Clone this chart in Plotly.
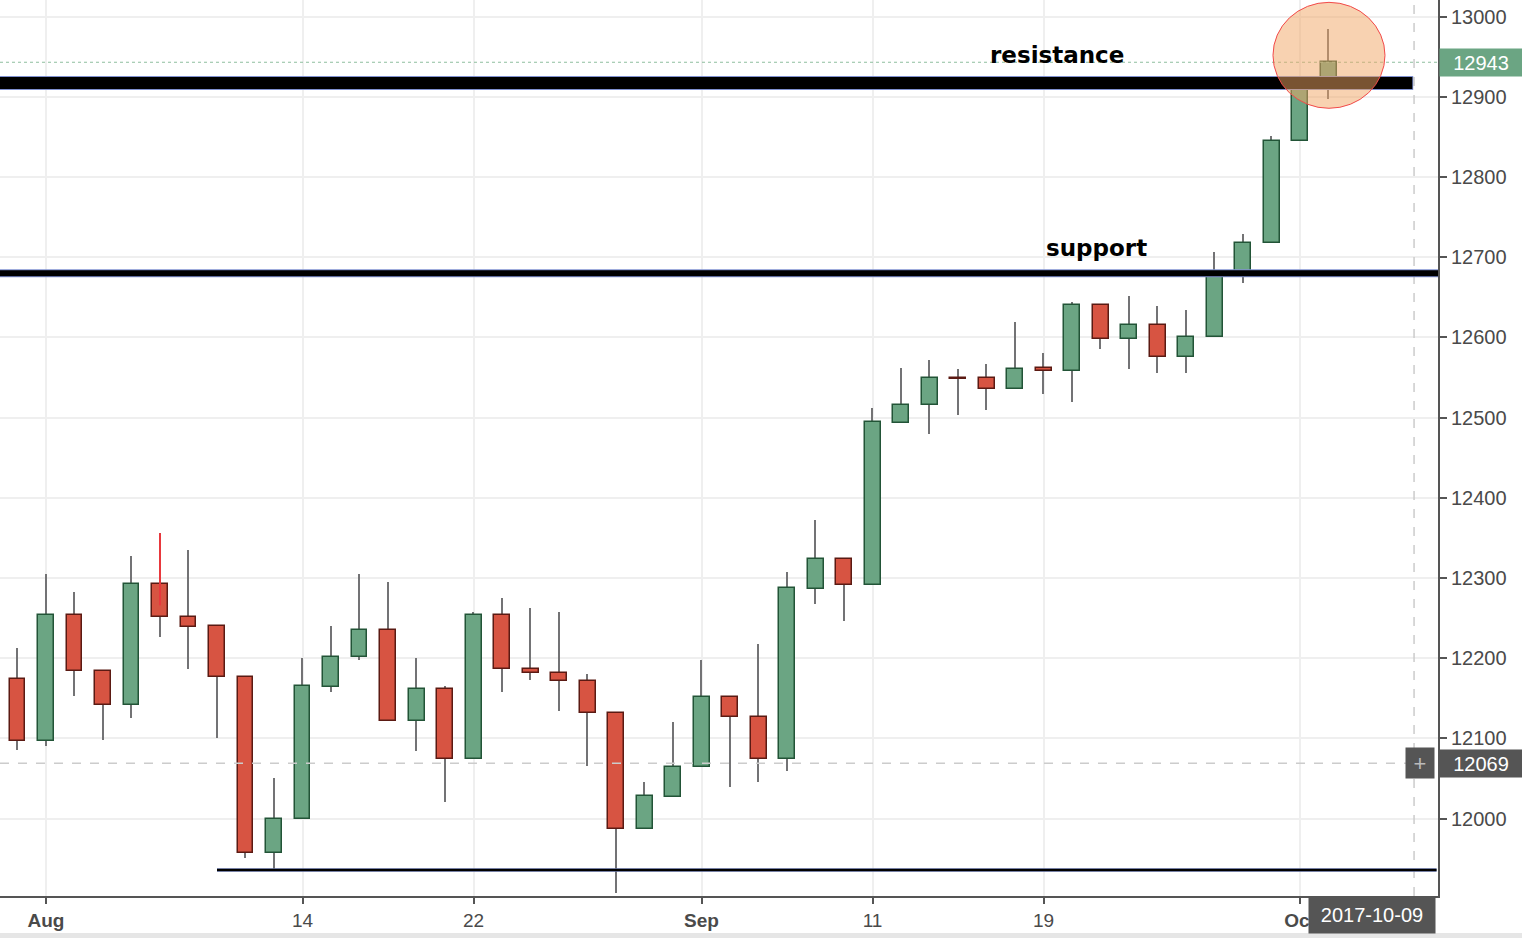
import plotly.graph_objects as go

# ---------------- data ----------------
dates = ["2017-07-31",
         "2017-08-01", "2017-08-02", "2017-08-03", "2017-08-04",
         "2017-08-07", "2017-08-08", "2017-08-09", "2017-08-10", "2017-08-11",
         "2017-08-14", "2017-08-15", "2017-08-16", "2017-08-17", "2017-08-18",
         "2017-08-21", "2017-08-22", "2017-08-23", "2017-08-24", "2017-08-25",
         "2017-08-28", "2017-08-29", "2017-08-30", "2017-08-31", "2017-09-01",
         "2017-09-04", "2017-09-05", "2017-09-06", "2017-09-07", "2017-09-08",
         "2017-09-11", "2017-09-12", "2017-09-13", "2017-09-14", "2017-09-15",
         "2017-09-18", "2017-09-19", "2017-09-20", "2017-09-21", "2017-09-22",
         "2017-09-25", "2017-09-26", "2017-09-27", "2017-09-28", "2017-09-29",
         "2017-10-02", "2017-10-03"]

opens = [12174, 12097, 12254, 12184, 12142, 12293, 12252, 12240, 12177, 11957,
         12000, 12164, 12202, 12235, 12122, 12162, 12074, 12254, 12187, 12182,
         12172, 12132, 11987, 12027, 12064, 12152, 12127, 12074, 12286, 12324,
         12291, 12493, 12516, 12549, 12549, 12536, 12562, 12558, 12641, 12598,
         12616, 12576, 12601, 12680, 12718, 12845, 12908]
highs = [12213, 12305, 12283, 12184, 12327, 12356, 12335, 12240, 12177, 12051,
         12200, 12240, 12305, 12295, 12200, 12165, 12258, 12275, 12263, 12258,
         12180, 12132, 12046, 12120, 12198, 12152, 12218, 12307, 12372, 12324,
         12512, 12562, 12572, 12560, 12567, 12619, 12580, 12644, 12641, 12652,
         12639, 12634, 12707, 12729, 12851, 12911, 12985]
lows = [12086, 12091, 12153, 12098, 12126, 12226, 12186, 12101, 11951, 11937,
        12000, 12158, 12198, 12122, 12084, 12021, 12074, 12158, 12173, 12134,
        12066, 11907, 11987, 12027, 12064, 12039, 12046, 12059, 12268, 12246,
        12291, 12493, 12480, 12503, 12510, 12536, 12530, 12520, 12585, 12560,
        12555, 12556, 12601, 12668, 12718, 12845, 12897]
closes = [12097, 12254, 12184, 12142, 12293, 12252, 12239, 12177, 11957, 12000,
          12165, 12202, 12235, 12122, 12162, 12074, 12254, 12186, 12181, 12172,
          12132, 11987, 12028, 12065, 12152, 12127, 12074, 12287, 12324, 12291,
          12494, 12516, 12549, 12548, 12536, 12561, 12558, 12641, 12598, 12616,
          12575, 12601, 12682, 12718, 12845, 12908, 12943]

tick_dates = ["2017-08-01", "2017-08-14", "2017-08-22", "2017-09-01",
              "2017-09-11", "2017-09-19", "2017-10-02"]
tick_labels = ["<b>Aug</b>", "14", "22", "<b>Sep</b>", "11", "19", "<b>Oct</b>"]
y_ticks = [12000, 12100, 12200, 12300, 12400, 12500, 12600, 12700, 12800, 12900, 13000]
y_tick_labels = [str(v) for v in y_ticks]

resistance_level = 12917
support_level = 12680
bottom_level = 11936
bottom_start_date = "2017-08-09"
last_price = 12943
cross_price = 12069
cross_index = 49          # slot of the crosshair (beyond last candle)
cross_label = "2017-10-09"
aug7_marker = ("2017-08-07", 12356, 12266)

# ---------------- derived ----------------
idx = list(range(len(dates)))
pos = {d: i for i, d in enumerate(dates)}
GREEN_FILL, GREEN_LINE = "#6ba583", "#225437"
RED_FILL, RED_LINE = "#d75442", "#5b1a13"
WICK = "#737375"

body_base = [min(o, c) for o, c in zip(opens, closes)]
body_h = [max(abs(c - o), 0.8) for o, c in zip(opens, closes)]
fills = [GREEN_FILL if c >= o else RED_FILL for o, c in zip(opens, closes)]
lines = [GREEN_LINE if c >= o else RED_LINE for o, c in zip(opens, closes)]

XR = [-0.614, 49.84]
YR = [11903.6, 13020.6]

fig = go.Figure()
# wicks
fig.add_trace(go.Bar(x=idx, base=lows, y=[h - l for h, l in zip(highs, lows)],
                     width=0.055, marker=dict(color=WICK, line=dict(width=0)),
                     hoverinfo="skip", showlegend=False))
# bodies
fig.add_trace(go.Bar(x=idx, base=body_base, y=body_h, width=0.56,
                     marker=dict(color=fills, line=dict(color=lines, width=1.5)),
                     hoverinfo="skip", showlegend=False))

shapes = []
# price line (dotted) for last price
shapes.append(dict(type="line", xref="paper", x0=0, x1=1, yref="y", y0=last_price, y1=last_price,
                   line=dict(color="#8fbf9f", width=1, dash="dot"), layer="above"))
# crosshair
shapes.append(dict(type="line", xref="paper", x0=0, x1=1, yref="y", y0=cross_price, y1=cross_price,
                   line=dict(color="#cccccc", width=1.5, dash="dash"), layer="above"))
shapes.append(dict(type="line", xref="x", x0=cross_index, x1=cross_index, yref="paper", y0=0, y1=1,
                   line=dict(color="#cccccc", width=1.5, dash="dash"), layer="above"))
# red drawing on Aug 7 wick
shapes.append(dict(type="line", xref="x", x0=pos[aug7_marker[0]], x1=pos[aug7_marker[0]],
                   yref="y", y0=aug7_marker[1], y1=aug7_marker[2],
                   line=dict(color="#e8383d", width=2), layer="above"))
# resistance line (thick)
res_end = 48.97
shapes.append(dict(type="line", xref="x", x0=XR[0], x1=res_end, yref="y",
                   y0=resistance_level, y1=resistance_level,
                   line=dict(color="#7f90d0", width=14), layer="above"))
shapes.append(dict(type="line", xref="x", x0=XR[0], x1=res_end - 0.03, yref="y",
                   y0=resistance_level, y1=resistance_level,
                   line=dict(color="#000000", width=12), layer="above"))
# support line
shapes.append(dict(type="line", xref="paper", x0=0, x1=1, yref="y",
                   y0=support_level, y1=support_level,
                   line=dict(color="#7f90d0", width=8), layer="above"))
shapes.append(dict(type="line", xref="paper", x0=0, x1=1, yref="y",
                   y0=support_level, y1=support_level,
                   line=dict(color="#000000", width=6), layer="above"))
# bottom line
shapes.append(dict(type="line", xref="x", x0=pos[bottom_start_date], x1=XR[1] - 0.05, yref="y",
                   y0=bottom_level, y1=bottom_level,
                   line=dict(color="#7f90d0", width=3.5), layer="above"))
shapes.append(dict(type="line", xref="x", x0=pos[bottom_start_date], x1=XR[1] - 0.05, yref="y",
                   y0=bottom_level, y1=bottom_level,
                   line=dict(color="#000000", width=2.5), layer="above"))
# highlight circle
shapes.append(dict(type="circle", xref="x", yref="y", x0=44.05, x1=47.98, y0=12885.6, y1=13017.7,
                   fillcolor="rgba(242,165,100,0.5)", line=dict(color="#f24a4a", width=1),
                   layer="above"))
# bottom grey strip
shapes.append(dict(type="rect", xref="paper", yref="paper", x0=-0.01, x1=1522 / 1438 + 0.01,
                   y0=-42 / 896, y1=-37 / 896, fillcolor="#e6e6e6", line=dict(width=0),
                   layer="above"))

annotations = [
    dict(text="<b>resistance</b>", xref="x", yref="y", x=36.47, y=12952, showarrow=False,
         font=dict(family="DejaVu Sans", size=23, color="#000000"), xanchor="center", yanchor="middle"),
    dict(text="<b>support</b>", xref="x", yref="y", x=37.86, y=12712, showarrow=False,
         font=dict(family="DejaVu Sans", size=23, color="#000000"), xanchor="center", yanchor="middle"),
    dict(text=f"{last_price}", xref="paper", yref="y", x=1, xshift=1, y=last_price, showarrow=False,
         xanchor="left", yanchor="middle", bgcolor=GREEN_FILL, width=80, height=25, borderpad=1,
         font=dict(family="Liberation Sans", size=20, color="#ffffff"), align="center"),
    dict(text=f"{cross_price}", xref="paper", yref="y", x=1, xshift=1, y=cross_price, showarrow=False,
         xanchor="left", yanchor="middle", bgcolor="#555555", width=80, height=25, borderpad=1,
         font=dict(family="Liberation Sans", size=20, color="#ffffff"), align="center"),
    dict(text="+", xref="x", yref="y", x=cross_index, xshift=6, y=cross_price, showarrow=False,
         xanchor="center", yanchor="middle", bgcolor="#555555", width=26, height=28, borderpad=1,
         font=dict(family="Liberation Sans", size=22, color="#bbbbbb"), align="center"),
    dict(text=cross_label, xref="x", yref="paper", x=cross_index, xshift=22, y=0, yshift=0,
         showarrow=False, xanchor="right", yanchor="top", bgcolor="#555555", width=126, height=36,
         borderpad=0, font=dict(family="Liberation Sans", size=20, color="#ffffff"), align="center"),
]

fig.update_layout(
    width=1522, height=938,
    margin=dict(l=0, r=84, t=0, b=42, pad=0),
    paper_bgcolor="#ffffff", plot_bgcolor="#ffffff",
    barmode="overlay", bargap=0, showlegend=False,
    shapes=shapes, annotations=annotations,
    font=dict(family="Liberation Sans", size=19, color="#4a4a4a"),
    hovermode=False,
)
fig.update_xaxes(range=XR, tickmode="array", tickvals=[pos[d] for d in tick_dates],
                 ticktext=tick_labels, showgrid=True, gridcolor="#efefef", gridwidth=1.5,
                 showline=True, linecolor="#555555", linewidth=2, ticks="outside",
                 ticklen=6, tickwidth=1.5, tickcolor="#555555", zeroline=False,
                 tickfont=dict(family="Liberation Sans", size=19, color="#4a4a4a"))
fig.update_yaxes(range=YR, side="right", tickmode="array", tickvals=y_ticks,
                 ticktext=y_tick_labels,
                 showgrid=True, gridcolor="#efefef", gridwidth=1.5,
                 showline=True, linecolor="#555555", linewidth=2, ticks="outside",
                 ticklen=7, tickwidth=1.5, tickcolor="#555555", zeroline=False,
                 tickfont=dict(family="Liberation Sans", size=20, color="#4a4a4a"))

fig.write_html("out.html", config={"displayModeBar": False},
               post_script="document.body.style.margin='0';document.body.style.overflow='hidden';")
